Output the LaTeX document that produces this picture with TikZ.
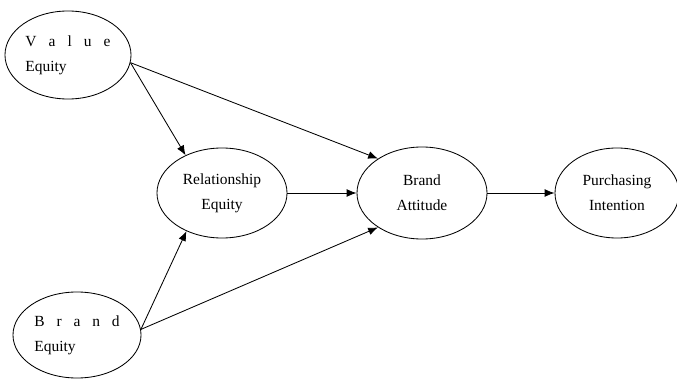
\documentclass[tikz,border=0pt]{standalone}
\usepackage{fontspec}
\setmainfont{Liberation Serif}
\usepackage{tikz}
\usetikzlibrary{shapes.geometric,arrows.meta}

\begin{document}
\begin{tikzpicture}[x=0.025cm,y=-0.025cm,line width=0.6pt,
    construct/.style={draw,ellipse,inner sep=0pt,align=center,
      font=\fontsize{11}{17.5}\selectfont},
    >={Latex[length=7pt,width=5.5pt]}]
    \useasboundingbox (0,0) rectangle (677,380);
    \node[construct,minimum width=3.15cm,minimum height=2.2cm,align=left] (val) at (68,55)
      {\makebox[2.13cm][s]{V a l u e}\\Equity};
    \node[construct,minimum width=3.2cm,minimum height=2.15cm,align=left] (brd) at (77,335)
      {\makebox[2.13cm][s]{B r a n d}\\Equity};
    \node[construct,minimum width=3.25cm,minimum height=2.25cm] (rel) at (222,193) {Relationship\\Equity};
    \node[construct,minimum width=3.25cm,minimum height=2.3cm] (att) at (422,193) {Brand\\Attitude};
    \node[construct,minimum width=3.1cm,minimum height=2.25cm] (pur) at (617,193) {Purchasing\\Intention};
    \draw[->] (val.-7) -- (rel.134);
    \draw[->] (val.-7) -- (att.142);
    \draw[->] (brd.5) -- (rel.227);
    \draw[->] (brd.5) -- (att.218);
    \draw[->] (rel.east) -- (att.west);
    \draw[->] (att.east) -- (pur.west);
  \end{tikzpicture}
\end{document}
